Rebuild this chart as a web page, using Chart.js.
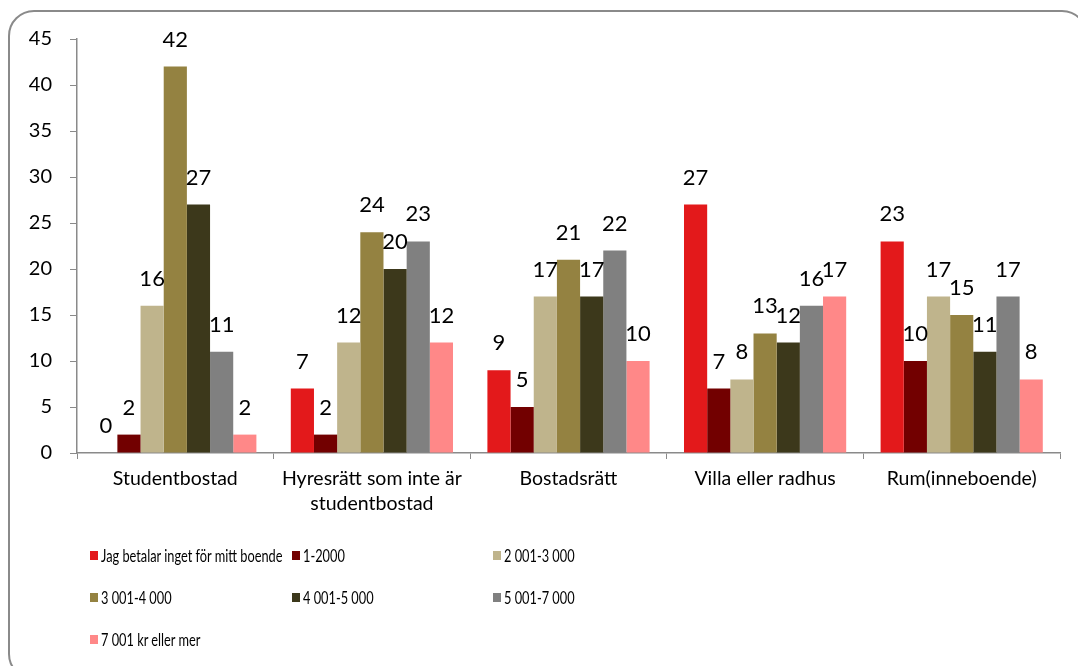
<!DOCTYPE html>
<html>
<head>
<meta charset="utf-8">
<script src="https://cdn.jsdelivr.net/npm/chart.js@4/dist/chart.umd.min.js"></script>
<style>
  body { margin: 0; background: #fff; font-family: Lato, sans-serif; }
  .wrap { position: relative; width: 1078px; height: 666px; overflow: hidden; }
  .frame {
    position: absolute; left: 8px; top: 10px; width: 1080px; height: 670px;
    border: 2px solid #8a8a8a; border-radius: 26px; box-sizing: border-box;
    pointer-events: none;
  }
  canvas { position: absolute; left: 0; top: 0; }
  .legend {
    position: absolute; left: 90px; top: 544px;
    display: grid; grid-template-columns: 202px 201px 200px; row-gap: 20px;
    font-size: 18px; color: #000;
  }
  .legend div { display: flex; align-items: center; height: 22px; white-space: nowrap; }
  .legend span.box { flex: 0 0 8px; width: 8px; height: 9px; margin-right: 3px; }
  .legend span.txt { display: inline-block; transform: scaleX(0.71); transform-origin: left center; }
</style>
</head>
<body>
<div class="wrap">
  <canvas id="chart" width="1078" height="666"></canvas>
  <div class="frame"></div>
  <div class="legend" id="legend"></div>
</div>
<script>
const categories = ['Studentbostad', ['Hyresrätt som inte är', 'studentbostad'], 'Bostadsrätt', 'Villa eller radhus', 'Rum(inneboende)']
const seriesNames = ['Jag betalar inget för mitt boende', '1-2000', '2 001-3 000', '3 001-4 000', '4 001-5 000', '5 001-7 000', '7 001 kr eller mer']
const betalarInget = [0, 7, 9, 27, 23]
const upTo2000 = [2, 2, 5, 7, 10]
const upTo3000 = [16, 12, 17, 8, 17]
const upTo4000 = [42, 24, 21, 13, 15]
const upTo5000 = [27, 20, 17, 12, 11]
const upTo7000 = [11, 23, 22, 16, 17]
const over7000 = [2, 12, 10, 17, 8]
const yTicks = [0, 5, 10, 15, 20, 25, 30, 35, 40, 45]

const seriesValues = [betalarInget, upTo2000, upTo3000, upTo4000, upTo5000, upTo7000, over7000]
const colors = ['#E3191B', '#720000', '#BFB48C', '#948241', '#3C381B', '#808080', '#FF8888']

// value above each bar
const valueLabels = {
    id: 'valueLabels',
    afterDatasetsDraw(chart) {
        const ctx = chart.ctx
        ctx.save()
        ctx.font = '22px Lato'
        ctx.fillStyle = '#000'
        ctx.textAlign = 'center'
        ctx.textBaseline = 'alphabetic'
        chart.data.datasets.forEach((ds, i) => {
            chart.getDatasetMeta(i).data.forEach((bar, j) => {
                ctx.fillText(ds.data[j], bar.x, bar.y - 20)
            })
        })
        ctx.restore()
    }
}

const ctx = document.getElementById('chart').getContext('2d')
new Chart(ctx, {
    type: 'bar',
    data: {
        labels: categories,
        datasets: seriesNames.map((name, i) => ({
            label: name,
            data: seriesValues[i],
            backgroundColor: colors[i],
            categoryPercentage: 0.825,
            barPercentage: 1
        }))
    },
    options: {
        responsive: false,
        animation: false,
        layout: { padding: { top: 39, right: 18, left: 0, bottom: 0 } },
        plugins: {
            legend: { display: false },
            tooltip: { enabled: false }
        },
        scales: {
            x: {
                grid: { drawOnChartArea: false, offset: true, tickLength: 6, color: '#8a8a8a' },
                border: { color: '#8a8a8a', width: 1.5 },
                ticks: { color: '#000', font: { family: 'Lato', size: 19.5, lineHeight: 1.25 }, padding: 8, maxRotation: 0 },
                afterFit: scale => { scale.height = 213 }
            },
            y: {
                min: 0,
                max: 45,
                afterBuildTicks: scale => { scale.ticks = yTicks.map(v => ({ value: v })) },
                grid: { drawOnChartArea: false, tickLength: 7, color: '#8a8a8a' },
                border: { color: '#8a8a8a', width: 1.5 },
                ticks: { color: '#000', font: { family: 'Lato', size: 20 }, padding: 18 },
                afterFit: scale => { scale.width = 77 }
            }
        }
    },
    plugins: [valueLabels]
})

const legend = document.getElementById('legend')
seriesNames.forEach((name, i) => {
    legend.insertAdjacentHTML('beforeend', `<div><span class="box" style="background:${colors[i]}"></span><span class="txt">${name}</span></div>`)
})
</script>
</body>
</html>
